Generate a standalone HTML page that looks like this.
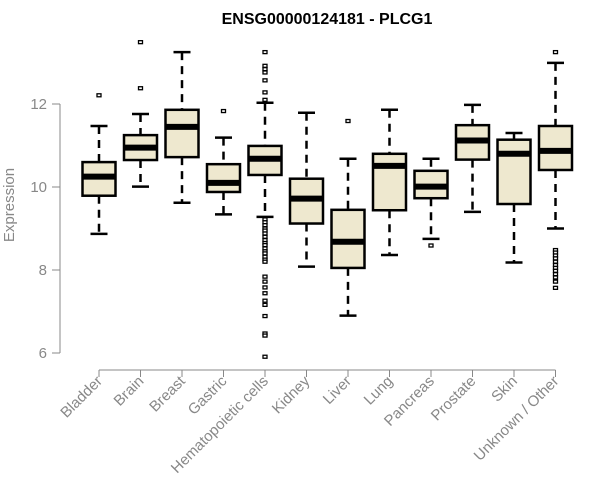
<!DOCTYPE html>
<html><head><meta charset="utf-8"><style>
body{margin:0;background:#fff;}
svg{display:block;font-family:"Liberation Sans",Arial,sans-serif;}
</style></head><body>
<svg id="chart" width="600" height="500">
<text x="327" y="24" text-anchor="middle" font-size="16" font-weight="bold">ENSG00000124181 - PLCG1</text>
<text transform="translate(14,205) rotate(-90)" text-anchor="middle" font-size="15" fill="#888">Expression</text>
<g id="axes"></g><g id="marks"></g>
</svg>
<script>
const categories=["Bladder","Brain","Breast","Gastric","Hematopoietic cells","Kidney","Liver","Lung","Pancreas","Prostate","Skin","Unknown / Other"];
const lowerWhisker=[8.87,10.01,9.62,9.34,9.28,8.08,6.90,8.36,8.75,9.40,8.18,9.00];
const q1=[9.79,10.65,10.72,9.88,10.29,9.12,8.05,9.44,9.73,10.66,9.59,10.41];
const medians=[10.25,10.95,11.45,10.10,10.68,9.72,8.68,10.51,10.01,11.12,10.80,10.87];
const q3=[10.60,11.25,11.86,10.55,10.99,10.20,9.45,10.80,10.39,11.49,11.14,11.47];
const upperWhisker=[11.47,11.76,13.25,11.19,12.03,11.79,10.68,11.86,10.68,11.98,11.30,12.99];
const outliers=[[12.21],[13.49,12.38],[],[11.83],
[13.25,12.92,12.84,12.76,12.57,12.28,12.10,9.22,9.15,9.08,9.0,8.95,8.88,8.8,8.72,8.65,8.6,8.52,8.45,8.4,8.32,8.25,8.2,7.84,7.72,7.58,7.44,7.26,7.16,6.89,6.47,6.42,5.91],
[],[11.59],[],[8.59],[],[],[13.25,8.48,8.42,8.35,8.28,8.2,8.12,8.05,7.98,7.9,7.82,7.72,7.57]];
const yTicks=[6,8,10,12];
const NS="http://www.w3.org/2000/svg";
function y(v){return 187-(v-10)*41.5;}
function x(i){return 99+i*41.5;}
function mk(t,a,p){const e=document.createElementNS(NS,t);for(const k in a)e.setAttribute(k,a[k]);p.appendChild(e);return e;}
const axes=document.getElementById('axes'),marks=document.getElementById('marks');
let l=mk('line',{x1:60,x2:60,y1:y(12),y2:y(6),stroke:'#888','stroke-width':1},axes);


yTicks.forEach(t=>{
 let tk=mk('line',{x1:52,x2:60,y1:y(t),y2:y(t),stroke:'#888'},axes);
 
 
 let tx=mk('text',{x:47,y:y(t)+5,'text-anchor':'end','font-size':15,fill:'#888'},axes);tx.textContent=t;
 
 
});
let xl=mk('line',{x1:x(0),x2:x(categories.length-1),y1:370,y2:370,stroke:'#888'},axes);


categories.forEach((c,i)=>{
 const cx=x(i);
 let tk=mk('line',{x1:cx,x2:cx,y1:370,y2:377,stroke:'#888'},axes);
 
 
 let tx=mk('text',{transform:`translate(${cx+4},${382}) rotate(-45)`,'text-anchor':'end','font-size':15,fill:'#888'},axes);tx.textContent=c;
 
 
 const g=mk('g',{},marks);
 
 
 mk('line',{x1:cx,x2:cx,y1:y(upperWhisker[i]),y2:y(q3[i]),stroke:'#000','stroke-width':2.5,'stroke-dasharray':'8,6'},g);
 mk('line',{x1:cx,x2:cx,y1:y(q1[i]),y2:y(lowerWhisker[i]),stroke:'#000','stroke-width':2.5,'stroke-dasharray':'8,6'},g);
 mk('line',{x1:cx-8.5,x2:cx+8.5,y1:y(upperWhisker[i]),y2:y(upperWhisker[i]),stroke:'#000','stroke-width':2.5},g);
 mk('line',{x1:cx-8.5,x2:cx+8.5,y1:y(lowerWhisker[i]),y2:y(lowerWhisker[i]),stroke:'#000','stroke-width':2.5},g);
 mk('rect',{x:cx-16.5,y:y(q3[i]),width:33,height:y(q1[i])-y(q3[i]),fill:'#EEE8CF',stroke:'#000','stroke-width':2.5},g);
 mk('line',{x1:cx-16.5,x2:cx+16.5,y1:y(medians[i]),y2:y(medians[i]),stroke:'#000','stroke-width':6},g);
 outliers[i].forEach(v=>{
  let o=mk('rect',{x:cx-2,y:y(v)-1.5,width:4,height:3,fill:'#fff',stroke:'#000','stroke-width':1.3},g);
  
  
 });
});
</script>
</body></html>
